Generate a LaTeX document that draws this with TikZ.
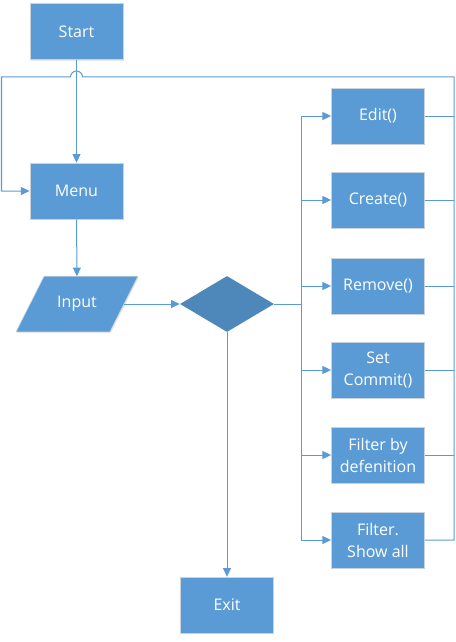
\documentclass[tikz,border=0pt]{standalone}
\usepackage{fontspec}
\setmainfont{Open Sans}
\usepackage{tikz}
\usetikzlibrary{shapes,arrows.meta,positioning,calc,shadows,backgrounds}

\definecolor{boxblue}{HTML}{5B9BD5}
\definecolor{decblue}{HTML}{4E87BA}
\definecolor{lineblue}{HTML}{5B9BD5}
\definecolor{boxedge}{HTML}{C9D3DD}

\tikzset{
  box/.style={rectangle, fill=boxblue, draw=boxedge, line width=0.4pt,
    minimum width=70pt, minimum height=42pt, inner sep=0pt, align=center,
    text=white, font=\fontsize{12}{16.5}\selectfont,
    drop shadow={opacity=0.18, shadow xshift=0.6pt, shadow yshift=-1pt}},
  inbox/.style={rectangle, minimum width=70pt, minimum height=41.25pt, inner sep=0pt,
    text=white, font=\fontsize{12}{16.5}\selectfont},
  decbox/.style={diamond, fill=decblue, minimum width=70.5pt, minimum height=42pt, inner sep=0pt},
  line/.style={draw=lineblue, line width=0.75pt},
  arr/.style={line, -{Triangle[length=6.5pt,width=6pt]}}
}

\begin{document}
\begin{tikzpicture}[x=0.75pt,y=-0.75pt]
\useasboundingbox (0,0) rectangle (455,642);
% main column
\node[box] (start) at (76.5,31.5) {Start};
\node[box] (menu) at (76.5,191) {Menu};
\node[inbox] (input) at (77,304) {Input};
\begin{scope}[on background layer]
\fill[boxblue, draw=boxedge, line width=0.4pt,
  drop shadow={opacity=0.18, shadow xshift=0.6pt, shadow yshift=-1pt}]
  ($(input.south west)+(-14,0)$) -- ($(input.south east)+(-14,0)$)
  -- ($(input.north east)+(14,0)$) -- ($(input.north west)+(14,0)$) -- cycle; % parallelogram
\end{scope}
\node[decbox] (dec) at (227,304) {};
\node[box] (exit) at (227,605) {Exit};
% actions
\node[box] (edit) at (378,116) {Edit()};
\node[box] (create) at (378,200) {Create()};
\node[box] (remove) at (378,286) {Remove()};
\node[box] (commit) at (378,370) {Set\\Commit()};
\node[box] (filterdef) at (378,455) {Filter by\\defenition};
\node[box] (showall) at (378,540) {Filter.\\Show all};
% bus lines
\coordinate (busL) at (301,304);
\coordinate (rtop) at (454,77);
\coordinate (ltop) at (1.5,77);
\coordinate (hop) at (76.5,77);

\draw[arr] (start) -- (menu);
\draw[arr] (menu) -- (input);
\draw[arr] (input.east) -- (dec.west);
\draw[arr] (dec.south) -- (exit.north);
\draw[line] (dec.east) -- (busL);
\draw[line] (edit.west -| busL) -- (showall.west -| busL);
\foreach \n in {edit,create,remove,commit,filterdef,showall}
  \draw[arr] (\n.west -| busL) -- (\n.west);
\foreach \n in {edit,create,remove,commit,filterdef}
  \draw[line] (\n.east) -- (\n.east -| rtop);
% loop back to menu, hopping over the start line
\draw[arr] (showall.east) -| (rtop) -- ($(hop)+(6,0)$) arc (0:-180:6) -- (ltop) |- (menu.west);
\end{tikzpicture}
\end{document}
